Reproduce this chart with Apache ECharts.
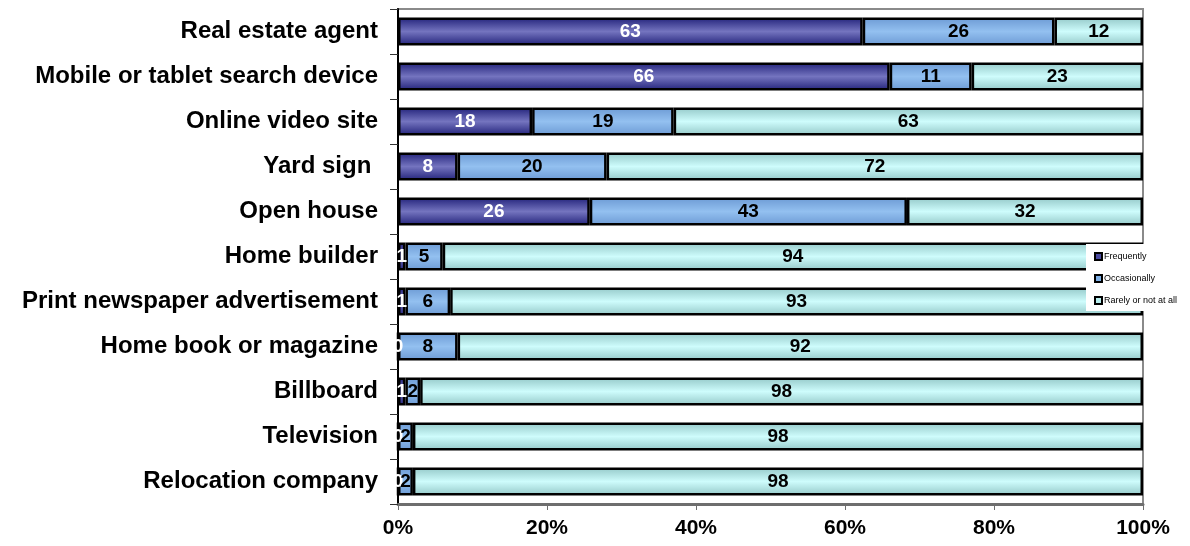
<!DOCTYPE html>
<html>
<head>
<meta charset="utf-8">
<script src="https://cdn.jsdelivr.net/npm/echarts@6/dist/echarts.min.js"></script>
<style>
  html, body { margin: 0; padding: 0; background: #ffffff; }
  #chart { width: 1190px; height: 546px; }
</style>
</head>
<body>
<div id="chart"></div>
<script>
// Information sources, listed top to bottom
const categories = [
  'Real estate agent',
  'Mobile or tablet search device',
  'Online video site',
  'Yard sign ',
  'Open house',
  'Home builder',
  'Print newspaper advertisement',
  'Home book or magazine',
  'Billboard',
  'Television',
  'Relocation company'
];

// Survey answers per source
const frequently   = [63, 66, 18, 8, 26, 1, 1, 0, 1, 0, 0];
const occasionally = [26, 11, 19, 20, 43, 5, 6, 8, 2, 2, 2];
const rarely       = [12, 23, 63, 72, 32, 94, 93, 92, 98, 98, 98];

const seriesNames = ['Frequently', 'Occasionally', 'Rarely or not at all'];
const xTickLabels = ['0%', '20%', '40%', '60%', '80%', '100%'];

const FONT = 'Liberation Sans, Arial, Helvetica, sans-serif';

// Row totals: each bar is shown as a share of its row (100% stacked)
const totals = categories.map((_, i) => frequently[i] + occasionally[i] + rarely[i]);
const share = (arr) => arr.map((v, i) => ({ value: v / totals[i] * 100, raw: v }));

function band(edge, mid) {
  return new echarts.graphic.LinearGradient(0, 0, 0, 1, [
    { offset: 0, color: edge },
    { offset: 0.5, color: mid },
    { offset: 1, color: edge }
  ]);
}

const fills = [
  band('#22227a', '#7474bf'),
  band('#6c9ad4', '#93c0f0'),
  band('#94c8c8', '#cefcfc')
];
const legendColors = ['#4a4aa0', '#7fb0e6', '#b8eeee'];
const labelColors = ['#ffffff', '#000000', '#000000'];
const dataSets = [frequently, occasionally, rarely];

const chart = echarts.init(document.getElementById('chart'), null, { renderer: 'canvas' });

chart.setOption({
  animation: false,
  backgroundColor: '#ffffff',
  grid: {
    left: 398, right: 47, top: 9, bottom: 42,
    show: true, borderColor: '#8a8a8a', borderWidth: 2, backgroundColor: 'transparent'
  },
  legend: {
    orient: 'vertical',
    left: 1086, top: 244,
    backgroundColor: '#ffffff',
    padding: [8, 4, 6, 8],
    itemWidth: 7, itemHeight: 7, itemGap: 13,
    icon: 'rect',
    textStyle: { fontFamily: FONT, fontSize: 9, color: '#000000', padding: [0, 0, 0, -3] },
    data: seriesNames.map((n, k) => ({
      name: n,
      itemStyle: { color: legendColors[k], borderColor: '#000000', borderWidth: 2 }
    }))
  },
  xAxis: {
    type: 'value',
    min: 0, max: 100, interval: 20,
    axisLine: { show: true, lineStyle: { color: '#6e6e6e', width: 3 } },
    axisTick: { show: true, length: 6, lineStyle: { color: '#6e6e6e', width: 1 } },
    splitLine: { show: false },
    axisLabel: {
      margin: 14,
      fontFamily: FONT, fontSize: 21, fontWeight: 'bold', color: '#000000',
      formatter: (v) => xTickLabels[Math.round(v / 20)]
    }
  },
  yAxis: {
    type: 'category',
    inverse: true,
    data: categories,
    axisLine: { show: true, lineStyle: { color: '#000000', width: 2 } },
    axisTick: { show: true, length: 8, lineStyle: { color: '#333333', width: 1 } },
    axisLabel: {
      margin: 20,
      padding: [3, 0, 0, 0],
      fontFamily: FONT, fontSize: 24, fontWeight: 'bold', color: '#000000'
    }
  },
  series: seriesNames.map((name, k) => ({
    name: name,
    type: 'bar',
    stack: 'total',
    barWidth: 28,
    data: share(dataSets[k]),
    itemStyle: { color: fills[k], borderColor: '#000000', borderWidth: 2.5 },
    label: {
      show: true,
      position: 'inside',
      fontFamily: FONT, fontSize: 19, fontWeight: 'bold',
      color: labelColors[k],
      formatter: (p) => String(p.data.raw)
    },
    labelLayout: { hideOverlap: false }
  }))
});
</script>
</body>
</html>
